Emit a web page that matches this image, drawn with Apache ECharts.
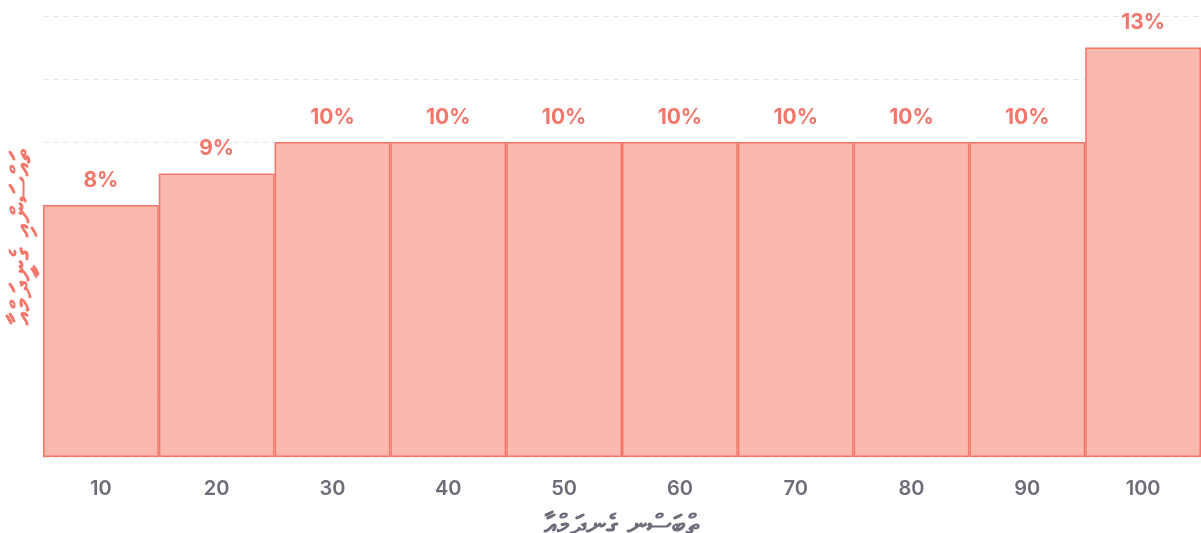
<!DOCTYPE html>
<html>
<head>
<meta charset="utf-8">
<script src="https://cdn.jsdelivr.net/npm/echarts@6/dist/echarts.min.js"></script>
<style>
  html, body { margin: 0; padding: 0; background: #fff; }
  #main { width: 1201px; height: 533px; }
</style>
</head>
<body>
<div id="main"></div>
<script>
// data
var categories = ['10', '20', '30', '40', '50', '60', '70', '80', '90', '100'];
var shares = [8, 9, 10, 10, 10, 10, 10, 10, 10, 13];
var xTitleText = 'އާމްދަނީގެ ނިސްބަތް';
var yTitleText = 'އާމްދަނީގެ އިންސައްތަ';

// the source picture shows the Thaana letters laid out left to right,
// so flip the letter clusters (letter + its fili) before the canvas applies RTL
function flipClusters(s) {
  var out = [];
  for (var i = 0; i < s.length; i++) {
    var code = s.charCodeAt(i);
    if (code >= 0x07A6 && code <= 0x07B0 && out.length) {
      out[out.length - 1] += s[i];
    } else {
      out.push(s[i]);
    }
  }
  return out.reverse().join('');
}

var chart = echarts.init(document.getElementById('main'));
var option = {
  animation: false,
  grid: { left: 43, right: 0, top: 16, bottom: 76, containLabel: false, outerBoundsMode: 'none' },
  xAxis: {
    type: 'category',
    data: categories,
    axisLine: { show: false },
    axisTick: { show: false },
    axisLabel: { color: '#6e6b7b', fontSize: 20, fontWeight: 600, fontFamily: 'Inter', margin: 22 },
    name: flipClusters(xTitleText),
    nameLocation: 'middle',
    nameGap: 56,
    nameTextStyle: { color: '#6e6b7b', fontSize: 28, fontWeight: 'bold', fontFamily: 'DejaVu Sans' }
  },
  yAxis: {
    type: 'value',
    min: 0,
    max: 14,
    interval: 2,
    axisLine: { show: false },
    axisTick: { show: false },
    axisLabel: { show: false },
    splitLine: { lineStyle: { color: '#e8e8e8', type: [6, 4], width: 1 } },
    name: flipClusters(yTitleText),
    nameLocation: 'middle',
    nameGap: 5,
    nameTextStyle: { color: '#f4766a', fontSize: 29, fontWeight: 'bold', fontFamily: 'DejaVu Sans' }
  },
  series: [{
    type: 'bar',
    data: shares,
    barCategoryGap: 0,
    itemStyle: { color: '#f9b9ae', borderColor: '#f4766a', borderWidth: 1.5 },
    label: {
      show: true,
      position: 'top',
      distance: 14,
      formatter: '{c}%',
      color: '#f4766a',
      fontSize: 21,
      fontWeight: 'bold',
      fontFamily: 'Inter'
    }
  }]
};
chart.setOption(option);
</script>
</body>
</html>
